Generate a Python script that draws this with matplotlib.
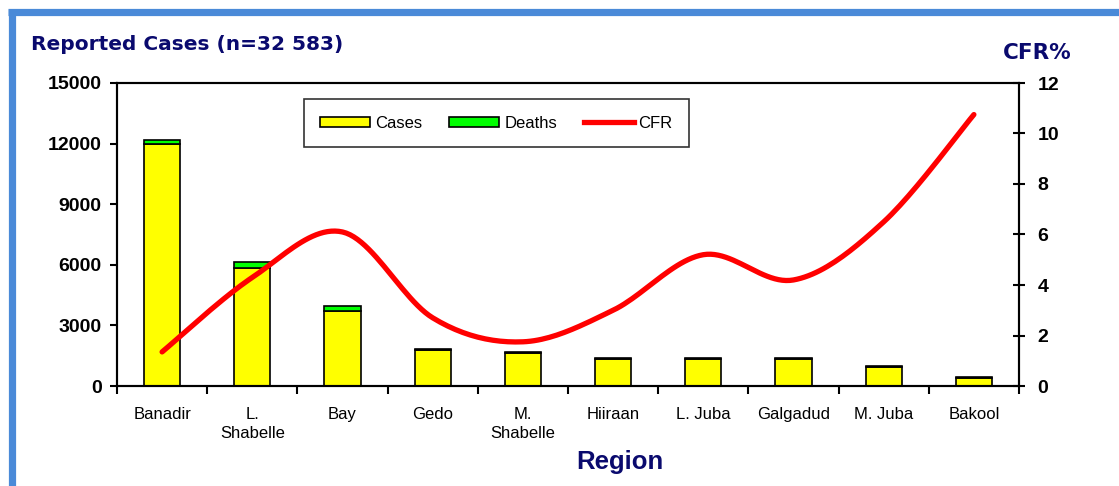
import numpy as np
import matplotlib
matplotlib.use('Agg')
import matplotlib.pyplot as plt
from matplotlib.lines import Line2D
from matplotlib.patches import Patch

regions = ['Banadir', 'L.\nShabelle', 'Bay', 'Gedo', 'M.\nShabelle', 'Hiiraan',
           'L. Juba', 'Galgadud', 'M. Juba', 'Bakool']
cases = [12000, 5850, 3730, 1800, 1650, 1360, 1330, 1340, 925, 385]
deaths = [165, 270, 230, 50, 30, 40, 70, 60, 65, 42]
cfr = [1.35, 4.3, 6.1, 2.7, 1.75, 3.0, 5.2, 4.2, 6.5, 10.75]

left_ticks = [0, 3000, 6000, 9000, 12000, 15000]
right_ticks = [0, 2, 4, 6, 8, 10, 12]

navy = '#0a0a6e'
plt.rcParams['font.family'] = ['Liberation Sans', 'DejaVu Sans']


def smooth(x, y, n=25):
    # Excel-style smoothed line (cubic Bezier through the points)
    pts = np.column_stack([x, y]).astype(float)
    out = []
    t = np.linspace(0, 1, n)[:, None]
    for i in range(len(pts) - 1):
        p0 = pts[max(i - 1, 0)]
        p1 = pts[i]
        p2 = pts[i + 1]
        p3 = pts[min(i + 2, len(pts) - 1)]
        c1 = p1 + (p2 - p0) / 6
        c2 = p2 - (p3 - p1) / 6
        seg = (1 - t) ** 3 * p1 + 3 * (1 - t) ** 2 * t * c1 + 3 * (1 - t) * t ** 2 * c2 + t ** 3 * p2
        out.append(seg)
    return np.vstack(out)


fig = plt.figure(figsize=(11.19, 4.86), dpi=100)
ax = fig.add_axes([117 / 1119, 100 / 486, 902 / 1119, 303 / 486])
ax2 = ax.twinx()

x = np.arange(len(regions))
ax.bar(x, cases, width=0.4, color='#ffff00', edgecolor='black', linewidth=1.2, zorder=2)
ax.bar(x, deaths, width=0.4, bottom=cases, color='#00ff00', edgecolor='black', linewidth=1.2, zorder=2)

sm = smooth(x, cfr)
ax2.plot(sm[:, 0], sm[:, 1], color='#ff0000', lw=3.8, solid_capstyle='round')

ax.set_xlim(-0.5, len(regions) - 0.5)
ax.set_ylim(0, 15000)
ax2.set_ylim(0, 12)

ax.set_yticks(left_ticks)
ax.set_yticklabels([str(v) for v in left_ticks], fontsize=14, fontweight='bold')
ax.tick_params(axis='y', direction='out', length=5, width=1.5, pad=6)
ax2.set_yticks(right_ticks)
ax2.set_yticklabels([str(v) for v in right_ticks], fontsize=14, fontweight='bold')
ax2.tick_params(axis='y', direction='inout', length=9, width=1.5, pad=9)

ax.set_xticks(x)
ax.set_xticklabels(regions, fontsize=12, linespacing=1.35, va='top')
ax.tick_params(axis='x', length=0, pad=15)
ax.set_xticks(np.arange(-0.5, len(regions)), minor=True)
ax.tick_params(axis='x', which='minor', direction='out', length=6, width=1.5)

for a in (ax, ax2):
    for s in a.spines.values():
        s.set_linewidth(1.5)

handles = [Patch(facecolor='#ffff00', edgecolor='black', linewidth=1.2, label='Cases'),
           Patch(facecolor='#00ff00', edgecolor='black', linewidth=1.2, label='Deaths'),
           Line2D([0], [0], color='#ff0000', lw=3.8, label='CFR')]
leg = ax2.legend(handles=handles, ncol=3, loc='upper left', bbox_to_anchor=(0.207, 0.947),
                 borderaxespad=0, fontsize=12, frameon=True, fancybox=False,
                 handlelength=3.0, handleheight=0.5, handletextpad=0.3, columnspacing=1.6,
                 borderpad=1.0)
leg.get_frame().set_edgecolor('black')
leg.get_frame().set_linewidth(1.2)

fig.text(31 / 1119, 1 - 44 / 486, 'Reported Cases (n=32 583)', fontsize=14.5, fontweight='bold',
         color=navy, family='DejaVu Sans', ha='left', va='center')
fig.text(1037 / 1119, 1 - 53 / 486, 'CFR%', fontsize=15.5, fontweight='bold',
         color=navy, family='DejaVu Sans', ha='center', va='center')
fig.text(620 / 1119, 1 - 462 / 486, 'Region', fontsize=18.5, fontweight='bold',
         color=navy, ha='center', va='center')

# blue frame (left and top edges)
blue = '#4a8ad8'
fig.add_artist(Line2D([11.5 / 1119, 11.5 / 1119], [0, 1 - 9 / 486], color=blue, lw=5.2,
                      transform=fig.transFigure, solid_capstyle='butt'))
fig.add_artist(Line2D([8 / 1119, 1], [1 - 12.5 / 486, 1 - 12.5 / 486], color=blue, lw=5.2,
                      transform=fig.transFigure, solid_capstyle='butt'))

fig.savefig('out.png', dpi=100)
